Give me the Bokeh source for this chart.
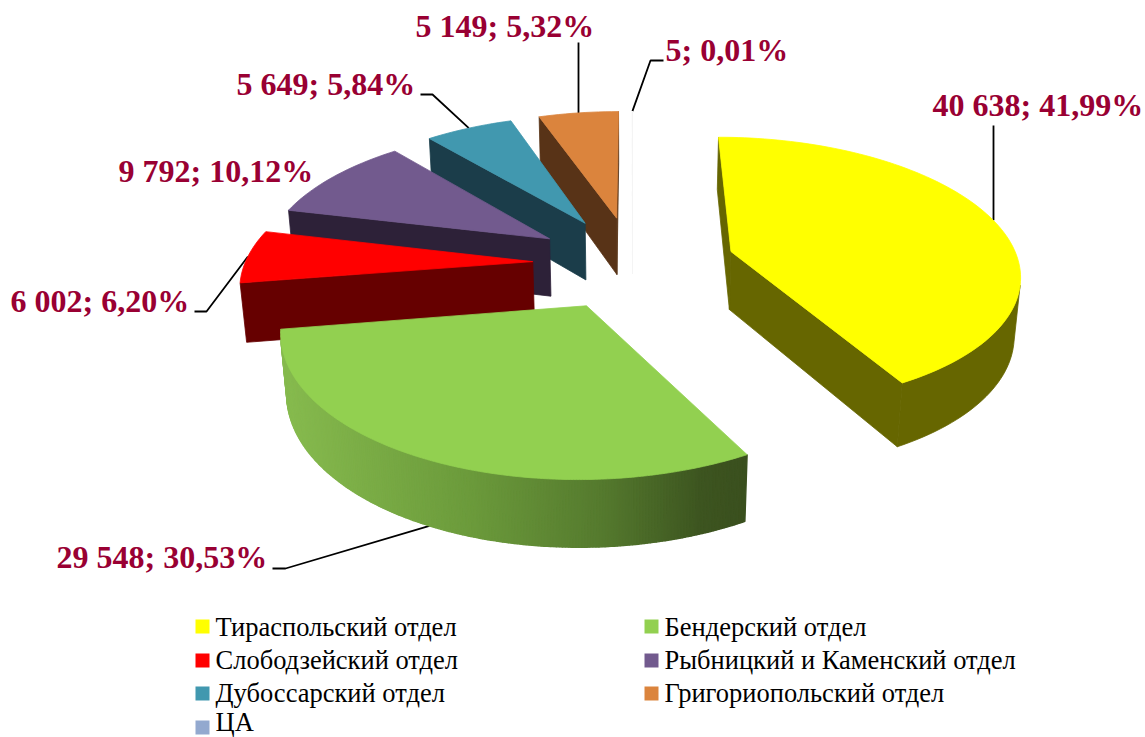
import math
from bokeh.plotting import figure
from bokeh.embed import file_html
from bokeh.resources import INLINE
from bokeh.core.properties import value

categories = ["Тираспольский отдел", "Бендерский отдел", "Слободзейский отдел",
              "Рыбницкий и Каменский отдел", "Дубоссарский отдел", "Григориопольский отдел", "ЦА"]
values = [40638, 29548, 6002, 9792, 5649, 5149, 5]
value_labels = ["40 638; 41,99%", "29 548; 30,53%", "6 002; 6,20%", "9 792; 10,12%",
                "5 649; 5,84%", "5 149; 5,32%", "5; 0,01%"]
top_colors = ["#FFFF00", "#92D050", "#FF0000", "#725A8E", "#4198AF", "#DB843D", "#FFFFFF"]
wall_colors = ["#666600", "#6B9A3B", "#660000", "#2D2138", "#1B3D4A", "#583317", "#F4F4F4"]
legend_colors = ["#FFFF00", "#92D050", "#FF0000", "#725A8E", "#4198AF", "#DB843D", "#93A9CF"]

# camera / projection of the pie onto the page
CX, CY = 632.0, 263.0
A, B = 303.0, 134.4
PERSP = 0.1467
DEPTH_W, DEPTH_Y = 0.0166, 59.5
EXPLODE_X = [0.34, 0.33, 0.33, 0.33, 0.33, 0.33, 0.33]
EXPLODE_Y = [0.36, 0.335, 0.36, 0.36, 0.36, 0.36, 0.36]
RADIUS_X = 0.95
W, H = 1145, 737

def project(X, Y, low=False):
    w = 1 + PERSP * Y + (DEPTH_W if low else 0)
    return CX + A * X / w, CY + (-B * Y + (DEPTH_Y if low else 0)) / w

def lerp_hex(stops, t):
    for (t0, c0), (t1, c1) in zip(stops, stops[1:]):
        if t <= t1:
            f = max(0, (t - t0) / (t1 - t0))
            return "#%02X%02X%02X" % tuple(
                round(int(c0[i:i+2], 16) * (1 - f) + int(c1[i:i+2], 16) * f) for i in (1, 3, 5))
    return stops[-1][1]

GREEN_STOPS = [(285, "#86BA4E"), (470, "#6B9A3B"), (600, "#557A2E"), (700, "#3D5520"), (750, "#3A4F1E")]

def area(px, py):
    return sum(px[i] * py[(i + 1) % len(px)] - px[(i + 1) % len(px)] * py[i] for i in range(len(px)))

total = sum(values)
p = figure(width=W, height=H, x_range=(0, W), y_range=(H, 0), output_backend="svg",
           toolbar_location=None, min_border=0, outline_line_color=None,
           x_axis_type=None, y_axis_type=None, background_fill_color="white")
p.grid.visible = False

slices = []
acc = 0.0
for v in values:
    a0 = acc / total * 2 * math.pi
    acc += v
    a1 = acc / total * 2 * math.pi
    slices.append((a0, a1))

def world(i, ang, r=1.0):
    a0, a1 = slices[i]
    mid = (a0 + a1) / 2
    ax, ay = EXPLODE_X[i] * math.sin(mid), EXPLODE_Y[i] * math.cos(mid)
    return ax + r * RADIUS_X * math.sin(ang), ay + r * math.cos(ang)

xs, ys, fills, lines, widths = [], [], [], [], []
def add(px, py, fill, line=None, width=0.8):
    xs.append(px); ys.append(py); fills.append(fill); lines.append(line or fill); widths.append(width)

draw_order = [6, 5, 4, 3, 2, 1, 0]
for i in draw_order:
    a0, a1 = slices[i]
    step = math.radians(0.5 if i == 1 else 1.5)
    n = max(2, int((a1 - a0) / step))
    angs = [a0 + (a1 - a0) * k / n for k in range(n + 1)]
    apex = world(i, 0, 0.0)
    rim = [world(i, a) for a in angs]
    # cut faces (wound so that a visible face has positive area on the page)
    for (pa, pb) in ((rim[0], apex), (apex, rim[-1])):
        t1, t2 = project(*pa), project(*pb)
        b2, b1 = project(*pb, low=True), project(*pa, low=True)
        px, py = [t1[0], t2[0], b2[0], b1[0]], [t1[1], t2[1], b2[1], b1[1]]
        if area(px, py) > 0 or i == 6:
            add(px, py, wall_colors[i])
    # outer curved wall
    vis_top, vis_low = [], []
    for k in range(n):
        t1, t2 = project(*rim[k]), project(*rim[k + 1])
        b2, b1 = project(*rim[k + 1], low=True), project(*rim[k], low=True)
        px, py = [t1[0], t2[0], b2[0], b1[0]], [t1[1], t2[1], b2[1], b1[1]]
        if area(px, py) < 0:
            if i == 1:
                add(px, py, lerp_hex(GREEN_STOPS, (t1[0] + t2[0]) / 2), width=1.4)
            else:
                vis_top += [t1, t2]
                vis_low += [b1, b2]
    if vis_top:
        ring = vis_top + vis_low[::-1]
        add([q[0] for q in ring], [q[1] for q in ring], wall_colors[i])
    # top
    pts = [project(*apex)] + [project(*q) for q in rim]
    add([q[0] for q in pts], [q[1] for q in pts], top_colors[i], "#F4F4F4" if i == 6 else None)

def rim_mid(i, low=False):
    a0, a1 = slices[i]
    return project(*world(i, (a0 + a1) / 2), low=low)

# leader lines: drawn first so the pie sits on top of their ends
leader_starts = {0: [(993, 125)], 1: [(272, 568), (285, 568)], 2: [(194, 311), (206, 311)],
                 4: [(420, 94), (432, 94)], 5: [(578, 42)], 6: [(663, 60), (650, 60)]}
for i, pts in leader_starts.items():
    end = rim_mid(i, low=(i == 1))
    ex = pts[0][0] if len(pts) == 1 else end[0]
    p.line([q[0] for q in pts] + [ex], [q[1] for q in pts] + [end[1]],
           line_color="black", line_width=1.8)

p.patches(xs, ys, fill_color=fills, line_color=lines, line_width=widths)

# data labels
label_x = [932, 56, 10, 118, 236, 415, 665]
label_y = [104, 556, 300, 170, 83, 25, 49]
p.text(label_x, label_y, text=value_labels, text_font=value("Liberation Serif"),
       text_font_style="bold", text_font_size="32px", text_color="#990033",
       text_align="left", text_baseline="middle")

# legend
leg_sq_x = [195, 644, 195, 644, 195, 644, 195]
leg_y = [626, 626, 660, 660, 693, 693, 727]
leg_text_y = [626, 626, 659, 659, 692, 692, 721]
p.quad(left=leg_sq_x, right=[x + 14 for x in leg_sq_x],
       top=[y - 7 for y in leg_y], bottom=[y + 7 for y in leg_y],
       fill_color=legend_colors, line_color=None)
p.text([x + 20 for x in leg_sq_x], leg_text_y, text=categories,
       text_font=value("Liberation Serif"), text_font_size="26.5px", text_color="black",
       text_align="left", text_baseline="middle")

open("out.html", "w").write(file_html(p, INLINE))
